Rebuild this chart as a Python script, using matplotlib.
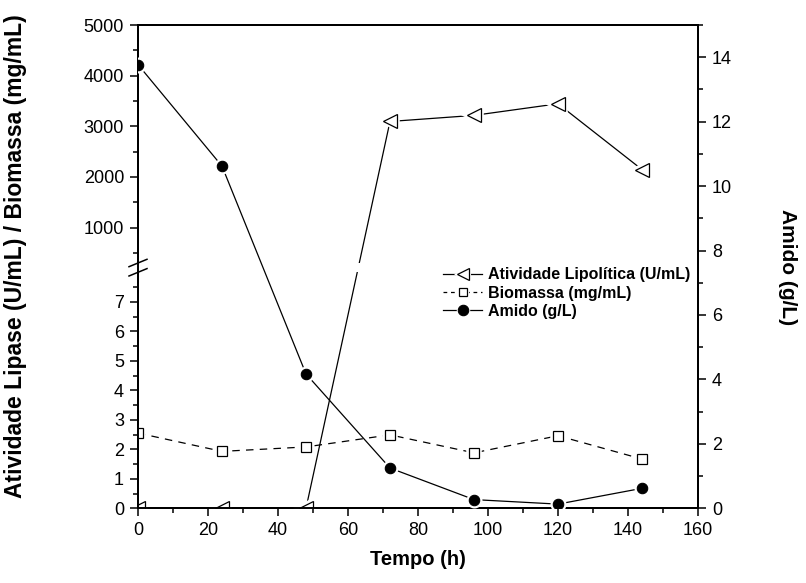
import numpy as np
import matplotlib
matplotlib.use("Agg")
import matplotlib.pyplot as plt
from matplotlib.lines import Line2D
from matplotlib.patches import Rectangle
from matplotlib.legend_handler import HandlerTuple

plt.rcParams['font.family'] = ['Liberation Sans', 'DejaVu Sans']

# ---------------- data ----------------
tempo = [0, 24, 48, 72, 96, 120, 144]
lipase = [0, 0, 0, 3095, 3215, 3445, 2145]          # U/mL (left axis)
biomassa = [2.55, 1.93, 2.08, 2.49, 1.88, 2.46, 1.67]  # mg/mL (left axis)
amido = [13.77, 10.62, 4.17, 1.25, 0.27, 0.13, 0.62]   # g/L (right axis)

x_ticks = [0, 20, 40, 60, 80, 100, 120, 140, 160]
left_major = [0, 1, 2, 3, 4, 5, 6, 7, 1000, 2000, 3000, 4000, 5000]
left_minor = [0.5, 1.5, 2.5, 3.5, 4.5, 5.5, 6.5, 7.5, 500, 1500, 2500, 3500, 4500]
right_ticks = [0, 2, 4, 6, 8, 10, 12, 14]

label_lip = 'Atividade Lipolítica (U/mL)'
label_bio = 'Biomassa (mg/mL)'
label_ami = 'Amido (g/L)'

# ---------------- broken (piecewise) scale ----------------
brk_lo, brk_hi = 8.0, 300.0
D = np.array([0.0, brk_lo, brk_hi, 5000.0])
F = np.array([0.0, 236.0 / 483.3, 245.3 / 483.3, 1.0])


def _pw(v, xs, ys):
    v = np.asarray(v, dtype=float)
    out = np.interp(v, xs, ys)
    lo = v < xs[0]
    hi = v > xs[-1]
    s0 = (ys[1] - ys[0]) / (xs[1] - xs[0])
    s1 = (ys[-1] - ys[-2]) / (xs[-1] - xs[-2])
    out = np.where(lo, ys[0] + (v - xs[0]) * s0, out)
    out = np.where(hi, ys[-1] + (v - xs[-1]) * s1, out)
    return out


def fwd(v):
    return _pw(v, D, F)


def inv(v):
    return _pw(v, F, D)


fig = plt.figure(figsize=(8.06, 5.83), dpi=100)
ax = fig.add_axes([138 / 806, 74.7 / 583, 560 / 806, 483.3 / 583])
ax.set_yscale('function', functions=(fwd, inv))
ax.set_xlim(0, 160)
ax.set_ylim(0, 5000)

ax2 = ax.twinx()
ax2.set_ylim(0, 15)

lw = 0.9
# Lipase line, broken at the axis break
f_lo, f_hi = fwd(brk_lo), fwd(brk_hi)
for y0, h in [(0, f_lo), (f_hi, 1 - f_hi)]:
    ln, = ax.plot(tempo, lipase, color='black', lw=lw, zorder=2)
    ln.set_clip_path(Rectangle((0, y0), 1, h, transform=ax.transAxes))
# Biomassa dashed line
ax.plot(tempo, biomassa, color='black', lw=lw, ls=(0, (6, 5)), zorder=2)
# halos (gap between line and markers)
ax.plot(tempo, lipase, ls='none', marker='<', ms=9.5, mfc='white', mec='white', mew=4, zorder=3)
ax.plot(tempo, biomassa, ls='none', marker='s', ms=7, mfc='white', mec='white', mew=4, zorder=3)
ax.plot(tempo, lipase, ls='none', marker='<', ms=9.5, mfc='white', mec='black', mew=0.9, zorder=4)
ax.plot(tempo, biomassa, ls='none', marker='s', ms=7, mfc='white', mec='black', mew=0.9, zorder=4)

ax2.plot(tempo, amido, color='black', lw=lw, zorder=2)
ax2.plot(tempo, amido, ls='none', marker='o', ms=7.5, mfc='white', mec='white', mew=4, zorder=3)
ax2.plot(tempo, amido, ls='none', marker='o', ms=7.5, mfc='black', mec='black', mew=0.8, zorder=4)

# ---------------- ticks ----------------
ax.set_xticks(x_ticks)
ax.set_xticks([v + 10 for v in x_ticks[:-1]], minor=True)
ax.set_yticks(left_major)
ax.set_yticklabels([str(v) for v in left_major])
ax.set_yticks(left_minor, minor=True)
ax2.set_yticks(right_ticks)
ax2.set_yticks([v + 1 for v in right_ticks], minor=True)

for a in (ax, ax2):
    a.tick_params(which='major', length=6, width=1.1, labelsize=13, direction='out')
    a.tick_params(which='minor', length=3.5, width=1.1, direction='out')
    for s in a.spines.values():
        s.set_linewidth(1.4)
ax.tick_params(axis='y', pad=4)
ax2.tick_params(axis='y', pad=4)
ax.tick_params(axis='x', pad=4)

# break marks on the left spine
ax.plot([0, 0], [f_lo + 0.002, f_hi - 0.002], transform=ax.transAxes, color='white',
        lw=3, clip_on=False, zorder=10, solid_capstyle='butt')
dx, dy = 9 / 560, 3.7 / 483.3
for yc in (f_lo, f_hi):
    ax.plot([-dx, dx], [yc - dy, yc + dy], transform=ax.transAxes, color='black',
            lw=1.1, clip_on=False, zorder=11)

# ---------------- labels ----------------
ax.set_xlabel('Tempo (h)', fontsize=14.5, fontweight='bold', labelpad=8)
fig.text(16 / 806, 1 - 256 / 583, 'Atividade Lipase (U/mL) / Biomassa (mg/mL)',
         rotation=90, ha='center', va='center', fontsize=16.5, fontweight='bold')
fig.text(788 / 806, 1 - 267 / 583, label_ami, rotation=270, ha='center', va='center',
         fontsize=15, fontweight='bold')

# ---------------- legend ----------------
def entry(ls, marker, ms, mfc, mew):
    line = Line2D([], [], color='black', lw=lw, ls=ls)
    halo = Line2D([], [], ls='none', marker=marker, ms=ms, mfc='white', mec='white', mew=2.2)
    mark = Line2D([], [], ls='none', marker=marker, ms=ms, mfc=mfc, mec='black', mew=mew)
    return (line, halo, mark)


handles = [
    entry('-', '<', 9, 'white', 0.9),
    entry((0, (3, 3)), 's', 6, 'white', 0.9),
    entry('-', 'o', 7.5, 'black', 0.8),
]
leg = ax2.legend(handles, [label_lip, label_bio, label_ami], loc='upper left',
                 bbox_to_anchor=((437 - 138) / 560, (508.3 - 261) / 483.3),
                 frameon=False, prop={'weight': 'bold', 'size': 11.5},
                 handler_map={tuple: HandlerTuple(ndivide=1, pad=0)},
                 handlelength=2.4, handletextpad=0.4, labelspacing=0.2, borderaxespad=0)

fig.savefig('out.png', dpi=100)
